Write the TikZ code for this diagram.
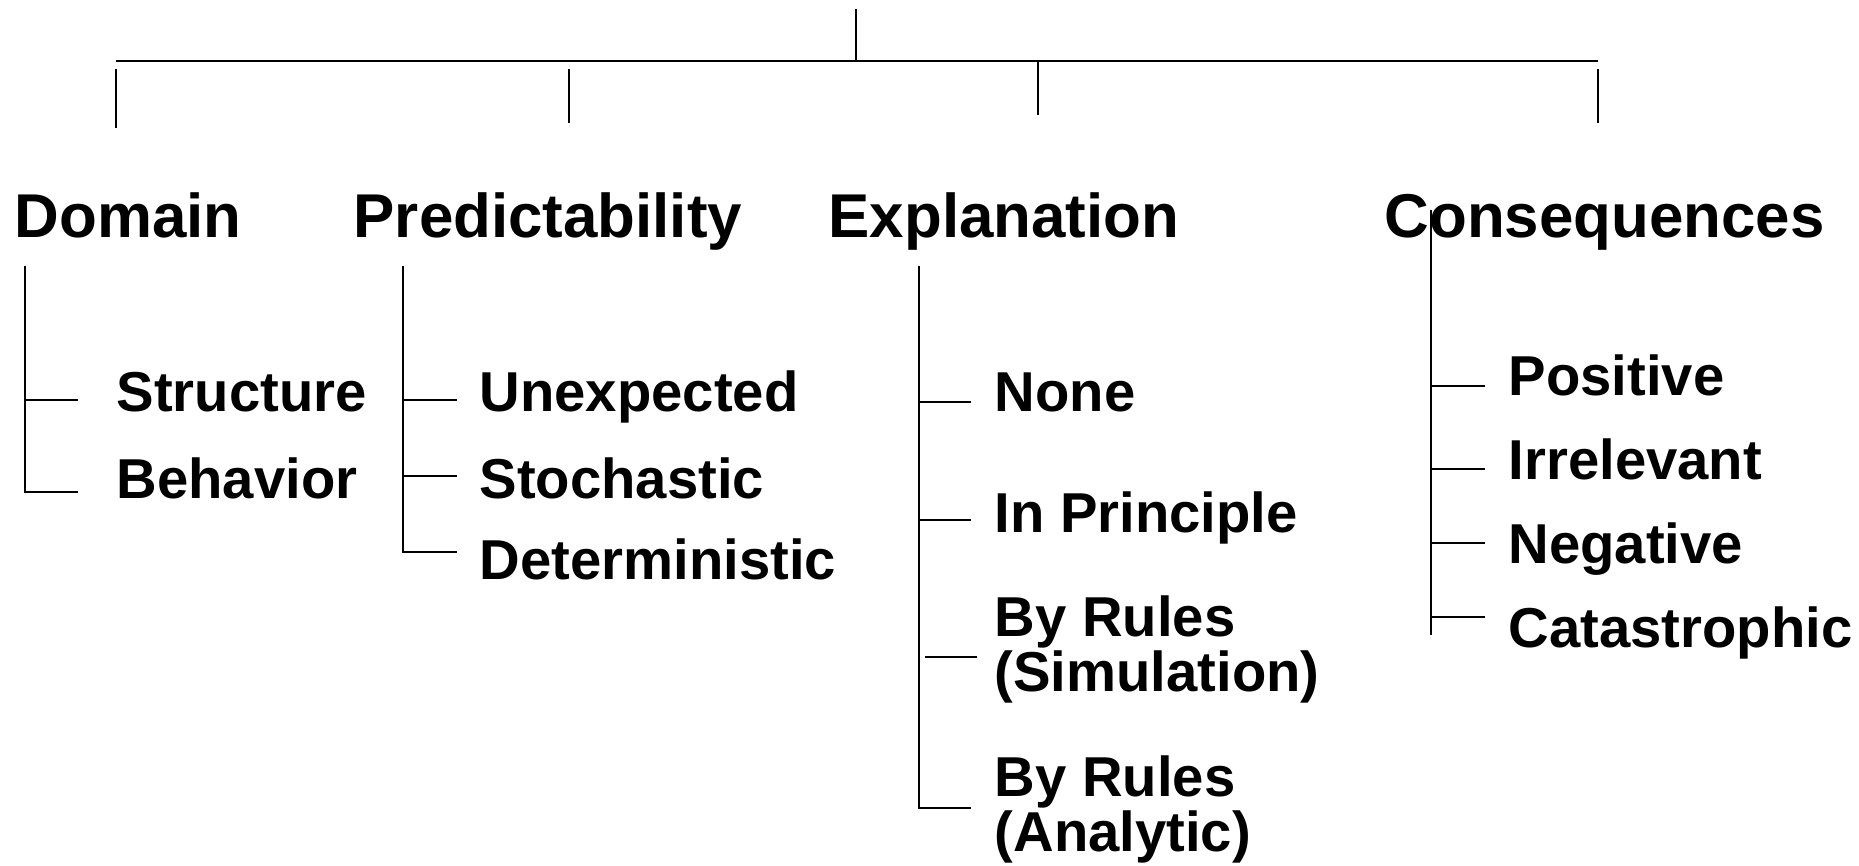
\documentclass[tikz,border=0pt]{standalone}
\usepackage{fontspec}
\setmainfont{Liberation Sans}
\usetikzlibrary{positioning}
\tikzset{
  tax/head/.style={
    anchor=base west,
    inner sep=0pt,
    font=\fontsize{17.6}{20}\selectfont\bfseries
  },
  tax/item/.style={
    anchor=base west,
    inner sep=0pt,
    align=left,
    font=\fontsize{16}{15.6}\selectfont\bfseries
  },
  tax/line/.style={draw=black, line width=0.6pt},
  tax/bar/.style={draw=black, line width=0.8pt}
}

\begin{document}
\begin{tikzpicture}[x=1cm,y=1cm]
  \useasboundingbox (0,0) rectangle (18.59,8.65);
  \coordinate (root) at (8.56,8.56);
  \coordinate (barl) at (1.16,8.04);
  \coordinate (barr) at (15.98,8.04);
  \draw[tax/line] (root) -- (root |- barl);
  \draw[tax/bar] (barl) -- (barr);
  \draw[tax/line] (1.16,7.96) -- (1.16,7.37);
  \draw[tax/line] (5.69,7.96) -- (5.69,7.42);
  \draw[tax/line] (10.38,8.04) -- (10.38,7.50);
  \draw[tax/line] (15.98,7.96) -- (15.98,7.42);

  \node[tax/head] (dom) at (0.14,6.28) {Domain};
  \node[tax/head] (pred) at (3.53,6.28) {Predictability};
  \node[tax/head] (expl) at (8.28,6.28) {Explanation};
  \node[tax/head] (cons) at (13.84,6.28) {Consequences};

  \node[tax/item] (struct) at (1.16,4.54) {Structure};
  \node[tax/item] (behav) at (1.16,3.67) {Behavior};
  \node[tax/item] (unexp) at (4.79,4.54) {Unexpected};
  \node[tax/item] (stoch) at (4.79,3.67) {Stochastic};
  \node[tax/item] (determ) at (4.79,2.86) {Deterministic};
  \node[tax/item] (none) at (9.94,4.54) {None};
  \node[tax/item] (princ) at (9.94,3.33) {In Principle};
  \node[tax/item] (simul) at (9.94,1.74) {By Rules\\(Simulation)};
  \node[tax/item] (analyt) at (9.94,0.14) {By Rules\\(Analytic)};
  \node[tax/item] (pos) at (15.08,4.70) {Positive};
  \node[tax/item] (irrel) at (15.08,3.86) {Irrelevant};
  \node[tax/item] (neg) at (15.08,3.02) {Negative};
  \node[tax/item] (cata) at (15.08,2.18) {Catastrophic};

  \draw[tax/line] (0.25,5.99) -- (0.25,3.73) -- (0.78,3.73);
  \draw[tax/line] (0.25,4.65) -- (0.78,4.65);

  \draw[tax/line] (4.03,5.99) -- (4.03,3.13) -- (4.57,3.13);
  \draw[tax/line] (4.03,4.65) -- (4.57,4.65);
  \draw[tax/line] (4.03,3.89) -- (4.57,3.89);

  \draw[tax/line] (9.19,5.99) -- (9.19,0.57) -- (9.71,0.57);
  \draw[tax/line] (9.19,4.63) -- (9.71,4.63);
  \draw[tax/line] (9.19,3.45) -- (9.71,3.45);
  \draw[tax/line] (9.25,2.08) -- (9.77,2.08);

  \draw[tax/line] (14.31,6.55) -- (14.31,2.30);
  \draw[tax/line] (14.31,4.79) -- (14.85,4.79);
  \draw[tax/line] (14.31,3.96) -- (14.85,3.96);
  \draw[tax/line] (14.31,3.22) -- (14.85,3.22);
  \draw[tax/line] (14.31,2.48) -- (14.85,2.48);
\end{tikzpicture}
\end{document}
